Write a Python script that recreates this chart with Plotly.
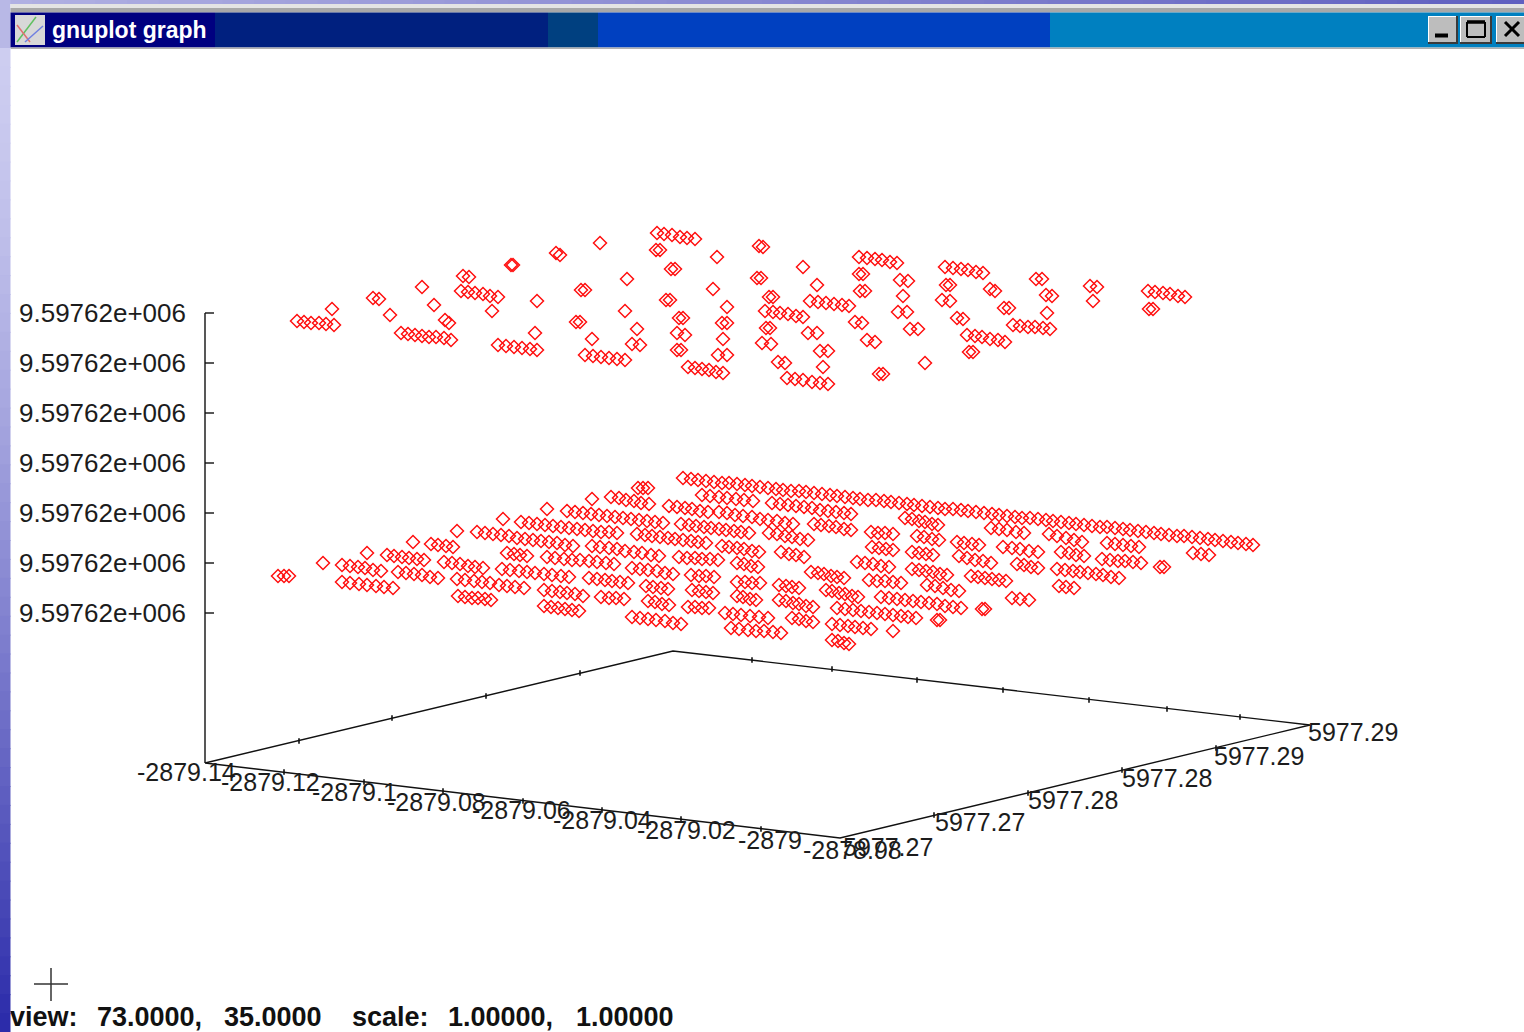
import plotly.graph_objects as go

# ---- data (projected positions of the plotted samples) ----
upper_x = [297,304,311,319,326,334, 332, 373,379, 390, 422, 434, 445,449,
           401,408,415,422,429,436,444,451, 463,469, 461,468,475,483,490,498, 492,
           511,513, 556,560, 600, 657,664,672,680,687,695, 656,660, 671,675, 627, 581,585, 537,
           625, 576,580, 535, 498,506,514,522,530,537, 592, 585,593,601,609,617,625, 637,
           632,640, 666,670, 679,683, 677,685, 677,681, 688,695,702,709,716,723,
           717, 713, 727, 722,727, 723, 718,727,
           759,763, 757,761, 769,773, 765,773,780,788,796,803, 766,770, 762,771, 778,785,
           787,795,803,812,820,828, 803, 817, 810,818,826,834,842,849, 808,817, 820,828, 823,
           859,867,875,882,890,897, 859,863, 860,865, 900,908, 903, 898,907, 855,862,
           910,918, 867,875, 879,883, 925,
           945,953,961,968,976,983, 946,950, 942,950, 957,963, 967,975,982,990,998,1005, 969,973,
           1036,1042, 990,995, 1004,1009, 1013,1020,1028,1035,1043,1050, 1046,1052, 1047,
           1090,1097, 1093, 1148,1155,1163,1170,1178,1185, 1149,1153]
upper_y = [321,322,323,323,324,325, 309, 298,299, 315, 287, 305, 320,323,
           333,334,335,336,337,337,338,340, 276,277, 291,292,293,294,296,297, 311,
           265,265, 253,255, 243, 233,234,235,237,238,239, 250,250, 269,269, 279, 290,290, 301,
           311, 322,322, 333, 345,346,347,348,349,350, 339, 355,356,357,358,359,360, 329,
           344,345, 300,300, 318,318, 333,335, 350,350, 367,368,369,370,372,373,
           257, 289, 307, 323,323, 339, 355,355,
           246,247, 278,278, 297,297, 311,312,313,314,316,317, 328,328, 343,344, 362,363,
           378,379,380,382,383,384, 267, 285, 301,302,303,304,305,306, 333,333, 351,351, 367,
           257,258,259,260,262,263, 274,274, 291,291, 280,281, 296, 312,312, 322,323,
           329,329, 340,342, 374,374, 363,
           267,268,269,270,272,273, 285,285, 300,301, 318,319, 335,336,337,339,340,342, 352,352,
           279,279, 289,291, 308,308, 325,326,327,327,328,329, 295,296, 313,
           286,287, 301, 291,292,293,294,296,297, 309,309]

lower_x = [683,691,698,706,714,722,729,737,745,752,760,768,776,783,791,799,806,814,822,830,
           837,845,853,860,868,876,884,891,899,907,914,922,930,938,945,953,961,968,976,984,
           992,999,1007,1015,1022,1030,1038,1046,1053,1061,1069,1076,1084,1092,1100,1107,
           1115,1123,1130,1138,1146,1154,1161,1169,1177,1184,1192,1200,1208,1215,1223,1231,1238,1246,1253,
           278,284,289, 323, 367, 413, 457, 503, 547, 592, 638,643,648,
           342,350,358,365,373,381, 342,350,359,367,376,384,393, 387,394,402,409,417,424,
           398,406,414,422,430,438, 431,438,446,453, 444,452,460,468,475,483,
           457,465,474,482,490,499,507,515,524, 458,465,472,478,485,491,
           477,485,493,501,509,517,525,533,541,549,557,565,573, 507,514,520,527,
           502,510,519,527,535,544,552,561,569, 521,529,537,545,553,561,569,577,585,593,601,609,617,
           547,555,564,572,580,589,597,606,614, 544,552,560,567,575,583, 544,551,558,565,572,579,
           567,575,583,591,599,607,615,623,631,639,647,655,663, 592,600,609,617,625,634,642,651,659,
           589,597,605,612,620,628, 601,609,616,624, 611,619,626,634,641,649,
           637,645,652,660,668,675,683,691,698,706, 632,640,648,657,665,673, 646,653,661,668,
           648,655,662,669, 632,640,648,656,665,673,681, 669,677,685,692,700,708,
           681,689,696,704,711,719,726,734,741,749, 679,687,695,702,710,718, 691,699,706,714,
           692,699,706,713, 688,695,702,709,
           702,710,719,727,736,744,753, 772,780,788,796,804,812,820,828,836,844,851,
           719,727,735,743,752,760,768,777,785,793, 814,821,829,836,844,851,
           722,729,737,744,752,759, 769,777,785,792,800,808, 781,789,796,804,
           737,744,751,758, 737,745,752,760, 779,786,792,799, 737,743,750,756,
           779,786,793,799,806,813, 725,733,741,750,759,768, 792,799,806,813,
           731,739,748,756,764,773,781, 811,818,824,831,837,844, 826,832,839,845,852,858,
           837,845,853,861,869,877,885,893,901,908,916, 832,840,848,855,863,871, 832,838,844,849,
           893, 937,940, 982,985, 881,889,897,905,913,921,929,937,945,953,961,
           927,935,943,951,959, 869,877,885,893,901, 857,865,873,881,889, 872,879,886,893,
           871,878,885,893, 912,919,926,933,940,947, 912,919,926,933, 917,924,932,939,
           905,912,919,925,932,938, 971,978,985,992,999,1006, 959,967,975,983,991, 957,964,972,979,
           1012,1020,1029, 1017,1024,1031,1038, 1003,1012,1020,1029,1038, 991,999,1007,1016,1024,
           1049,1057,1066,1074,1082, 1057,1065,1073,1080,1088,1096,1103,1111,1119, 1059,1066,1074,
           1061,1069,1076,1084, 1102,1110,1118,1125,1133,1141, 1107,1115,1123,1131,1139,
           1160,1164, 1193,1201,1209]
lower_y = [478,479,480,481,482,483,483,484,485,486,487,488,489,490,491,491,492,493,494,495,
           496,497,498,499,500,500,501,502,503,504,505,506,507,508,509,509,510,511,512,513,
           514,515,516,517,518,518,519,520,521,522,523,524,525,526,527,527,
           528,529,530,531,532,533,534,535,536,536,537,538,539,540,541,542,543,544,545,
           576,576,576, 563, 553, 542, 531, 519, 509, 499, 488,488,488,
           565,566,567,568,570,571, 582,583,584,585,586,587,588, 555,556,557,558,559,560,
           572,573,574,575,577,578, 544,545,546,547, 562,563,564,566,567,568,
           579,580,581,582,583,585,586,587,588, 596,597,598,598,599,600,
           532,533,534,535,536,538,539,540,541,542,543,545,546, 553,554,555,556,
           569,570,571,572,573,574,575,576,577, 522,523,524,525,526,527,528,529,530,531,532,532,533,
           557,558,559,560,560,561,562,563,564, 590,591,592,593,594,596, 606,607,608,609,610,611,
           511,512,513,514,515,516,517,518,519,520,521,522,523, 546,547,548,549,551,552,553,555,556,
           578,579,580,581,582,583, 597,598,598,599, 497,498,500,501,503,504,
           534,535,536,537,538,539,540,541,542,543, 568,569,570,571,573,574, 586,587,588,589,
           601,602,604,605, 617,618,619,620,621,623,624, 506,507,508,509,511,512,
           524,525,526,527,528,529,530,531,532,533, 557,558,558,559,559,560, 575,576,576,577,
           590,591,592,593, 607,607,608,608,
           495,496,497,498,499,500,501, 503,504,505,506,507,508,510,511,512,513,514,
           512,513,515,516,517,519,520,521,523,524, 524,525,526,527,529,530,
           546,547,548,549,551,552, 533,534,536,537,539,540, 552,554,555,557,
           563,564,566,567, 582,582,583,583, 585,586,587,588, 596,597,599,600,
           600,601,603,604,606,607, 613,614,615,616,617,618, 618,619,621,622,
           628,629,630,631,631,632,633, 572,573,574,576,577,578, 590,591,593,594,596,597,
           608,609,610,611,612,613,614,615,616,617,618, 624,625,626,627,628,629, 640,641,643,644,
           631, 620,620, 609,609, 597,598,599,600,601,602,603,604,606,607,608,
           585,586,588,590,591, 580,581,581,582,583, 562,563,564,566,567, 547,548,549,550,
           532,533,533,534, 569,570,571,572,574,575, 552,553,554,555, 536,537,539,540,
           518,519,521,522,524,525, 576,577,578,579,580,581, 556,558,560,561,563, 542,543,544,545,
           598,599,600, 564,565,567,568, 547,548,549,551,552, 528,529,530,532,533,
           534,536,538,540,542, 569,570,571,572,573,574,575,577,578, 586,587,588,
           552,553,555,556, 559,560,561,561,562,563, 543,544,545,546,547,
           567,567, 553,554,555]

z_tick_pos = [313,363,413,463,513,563,613]
z_tick_text = ["9.59762e+006"]*7
x_tick_start = [137,221,312,387,472,553,637,738,803]
x_tick_row = [773,783,793,803,811,821,831,841,851]
x_tick_text = ["-2879.14","-2879.12","-2879.1","-2879.08","-2879.06","-2879.04","-2879.02","-2879","-2878.98"]
y_tick_start = [843,935,1028,1122,1214,1308]
y_tick_row = [848,823,801,779,757,733]
y_tick_text = ["5977.27","5977.27","5977.28","5977.28","5977.29","5977.29"]
box_x = [205,205,None,205,673,1310,840,205]
box_y = [313,763,None,763,651,725,838,763]
edge_tick_x = [284,364,443,523,602,681,761, 752,832,917,1003,1089,1167,1240,
               299,392,486,580, 934,1028,1122,1216]
edge_tick_y = [772,782,791,801,810,819,829, 660,669,680,690,700,709,717,
               741,718,696,673, 815,793,770,748]
status_start = [10,97,224,352,448,576]
status_text = ["view:","73.0000,","35.0000","scale:","1.00000,","1.00000"]

FONT = "Liberation Sans"
INK = "#1c1c1c"
RED = "#ff1010"


def lerp(a, b, t):
    return "#%02x%02x%02x" % tuple(round(a[i] + (b[i] - a[i]) * t) for i in range(3))


shapes = []


def rect(x0, y0, x1, y1, fill, layer="below"):
    shapes.append(dict(type="rect", xref="x", yref="y", x0=x0, y0=y0, x1=x1, y1=y1,
                       fillcolor=fill, line_width=0, layer=layer))


def seg(x0, y0, x1, y1, color="#000000", w=2.5, layer="above"):
    shapes.append(dict(type="line", xref="x", yref="y", x0=x0, y0=y0, x1=x1, y1=y1,
                       line=dict(color=color, width=w), layer=layer))


# desktop behind the window
for i in range(48):
    x0 = i * 1524 / 48
    rect(x0, 0, x0 + 1524 / 48 + 1, 4, lerp((176, 176, 226), (96, 96, 192), i / 47))
for i in range(52):
    y0 = 48 + i * 984 / 52
    rect(0, y0, 10.5, y0 + 984 / 52 + 1, lerp((205, 205, 240), (44, 44, 170), (i / 51) ** 1.4), layer="above")
rect(0, 0, 10.5, 48, "#b8b8e6")
# window frame and title bar
rect(10.5, 4, 1524, 8, "#e4e4e4")
rect(10.5, 8, 1524, 12.5, "#a8a8a8")
for x0, x1, c in [(10.5, 215, "#000080"), (215, 548, "#00207f"), (548, 598, "#004080"),
                  (598, 1050, "#0040c0"), (1050, 1524, "#0080c0")]:
    rect(x0, 12.5, x1, 47.5, c)
rect(10.5, 47.5, 1524, 49, "#b0b0b0")
# title icon
rect(15, 15, 45, 45, "#d8d8d8", layer="above")
seg(17, 42, 36, 17, "#60c060", 1.5)
seg(17, 25, 30, 42, "#e07070", 1.5)
seg(25, 42, 43, 26, "#7080e0", 1.5)
# window buttons
for x0, x1 in [(1428, 1458), (1460, 1492), (1496, 1526)]:
    rect(x0, 16, x1, 44, "#3a3a3a")
    rect(x0, 16, x1 - 2, 42, "#ffffff")
    rect(x0 + 1, 17, x1 - 2, 42, "#bdbdbd")
seg(1435, 35.5, 1448, 35.5, w=4)
for a in [(1467, 22, 1485, 22, 3.5), (1467, 22, 1467, 37, 2), (1485, 22, 1485, 37, 2), (1467, 37, 1485, 37, 2)]:
    seg(*a[:4], w=a[4])
seg(1505, 22, 1519, 36, w=3)
seg(1519, 22, 1505, 36, w=3)
# crosshair at the mouse position
seg(34, 984, 68, 984, "#333333", 1.5)
seg(51, 968, 51, 1001, "#333333", 1.5)

fig = go.Figure()
fig.add_trace(go.Scatter(x=box_x, y=box_y, mode="lines", line=dict(color="#111111", width=1.4),
                         hoverinfo="skip", showlegend=False))
z_tick_x, z_tick_y = [], []
for v in z_tick_pos:
    z_tick_x += [205, 214, None]
    z_tick_y += [v, v, None]
fig.add_trace(go.Scatter(x=z_tick_x, y=z_tick_y, mode="lines", line=dict(color="#111111", width=1.4),
                         hoverinfo="skip", showlegend=False))
fig.add_trace(go.Scatter(x=edge_tick_x, y=edge_tick_y, mode="markers", showlegend=False, hoverinfo="skip",
                         marker=dict(symbol="line-ns", size=4, line=dict(color="#111111", width=1.6))))
for xs, ys, name in [(upper_x, upper_y, "upper"), (lower_x, lower_y, "lower")]:
    fig.add_trace(go.Scatter(x=xs, y=ys, mode="markers", name=name, showlegend=False,
                             marker=dict(symbol="diamond-open", size=10, color=RED, line=dict(color=RED, width=1.5))))
tick_font = dict(family=FONT, size=25, color=INK)
fig.add_trace(go.Scatter(x=[186] * 7, y=[v + 2 for v in z_tick_pos], text=z_tick_text, mode="text",
                         textposition="middle left", textfont=dict(family=FONT, size=26, color=INK),
                         showlegend=False, hoverinfo="skip"))
fig.add_trace(go.Scatter(x=x_tick_start, y=[v + 2 for v in x_tick_row], text=x_tick_text, mode="text",
                         textposition="middle right", textfont=tick_font, showlegend=False, hoverinfo="skip"))
fig.add_trace(go.Scatter(x=y_tick_start, y=[v + 2 for v in y_tick_row], text=y_tick_text, mode="text",
                         textposition="middle right", textfont=tick_font, showlegend=False, hoverinfo="skip"))
fig.add_trace(go.Scatter(x=status_start, y=[1019] * 6, text=status_text, mode="text", textposition="middle right",
                         textfont=dict(family=FONT, size=27, color="#111111", weight="bold"),
                         showlegend=False, hoverinfo="skip"))
fig.add_trace(go.Scatter(x=[52], y=[32], text=["gnuplot graph"], mode="text", textposition="middle right",
                         textfont=dict(family=FONT, size=23, color="#ffffff", weight="bold"),
                         showlegend=False, hoverinfo="skip"))

hidden = dict(visible=False, fixedrange=True)
fig.update_layout(
    width=1524, height=1032, margin=dict(l=0, r=0, t=0, b=0),
    paper_bgcolor="#ffffff", plot_bgcolor="#ffffff",
    xaxis=dict(range=[0, 1524], **hidden),
    yaxis=dict(range=[1032, 0], **hidden),
    shapes=shapes, showlegend=False,
)
fig.write_html("out.html", config=dict(displayModeBar=False),
               post_script="document.body.style.margin='0';document.body.style.overflow='hidden';")
